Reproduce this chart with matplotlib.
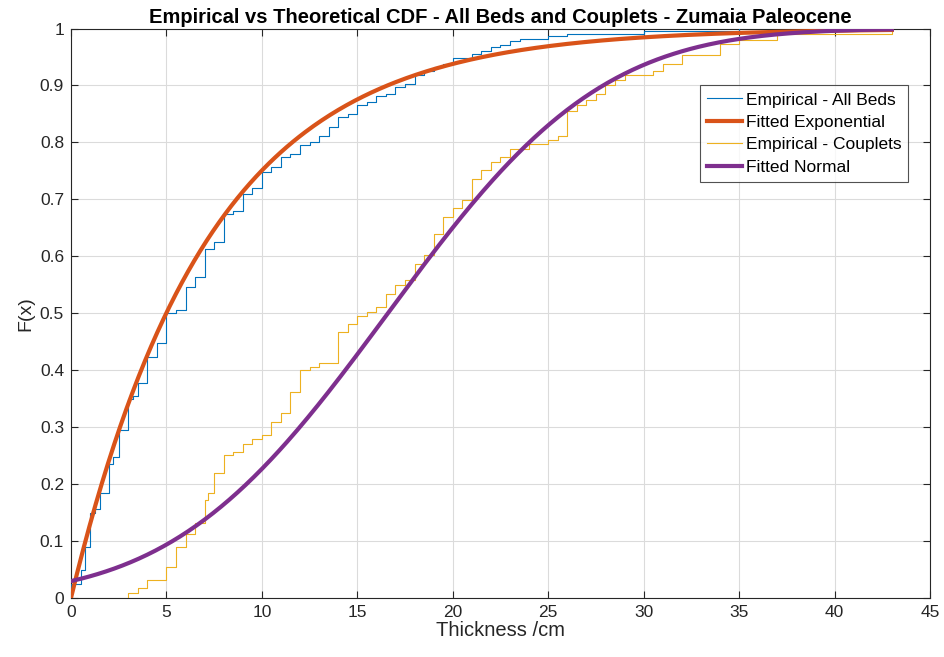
import math
import numpy as np
import matplotlib
matplotlib.use("Agg")
import matplotlib.pyplot as plt

# ---- data ----
# Empirical CDF - All Beds: step positions (cm) and F after each step
beds_x = [0.0, 0.5, 0.75, 1.0, 1.25, 1.5, 2.0, 2.2, 2.5, 3.0, 3.25, 3.5, 4.0, 4.5,
          5.0, 5.5, 6.0, 6.5, 7.0, 7.5, 8.0, 8.5, 9.0, 9.5, 10.0, 10.5, 11.0, 11.5,
          12.0, 12.5, 13.0, 13.5, 14.0, 14.5, 15.0, 15.5, 16.0, 16.5, 17.0, 17.5,
          18.0, 18.5, 19.0, 19.5, 20.0, 21.0, 21.5, 22.0, 22.5, 23.0, 23.5, 25.0,
          26.0, 30.0, 35.0]
beds_F = [0.025, 0.05, 0.09, 0.15, 0.157, 0.184, 0.235, 0.248, 0.295, 0.35, 0.355,
          0.378, 0.423, 0.448, 0.501, 0.505, 0.546, 0.564, 0.612, 0.625, 0.675,
          0.68, 0.71, 0.72, 0.748, 0.757, 0.775, 0.78, 0.795, 0.80, 0.812, 0.827,
          0.844, 0.85, 0.865, 0.871, 0.882, 0.885, 0.897, 0.903, 0.918, 0.926,
          0.932, 0.938, 0.948, 0.955, 0.961, 0.967, 0.971, 0.978, 0.982, 0.986,
          0.991, 0.995, 1.0]

# Empirical CDF - Couplets
coup_x = [3.0, 3.5, 4.0, 5.0, 5.5, 6.0, 6.5, 7.0, 7.2, 7.5, 8.0, 8.5, 9.0, 9.5,
          10.0, 10.5, 11.0, 11.5, 12.0, 12.5, 13.0, 14.0, 14.5, 15.0, 15.5, 16.0,
          16.5, 17.0, 17.5, 18.0, 18.5, 19.0, 19.5, 20.0, 20.5, 21.0, 21.5, 22.0,
          22.5, 23.0, 24.0, 25.0, 25.5, 26.0, 26.5, 27.0, 27.5, 28.0, 28.5, 29.0,
          30.5, 31.0, 32.0, 34.0, 35.0, 37.0, 43.0]
coup_F = [0.008, 0.017, 0.032, 0.055, 0.09, 0.113, 0.131, 0.172, 0.184, 0.219,
          0.251, 0.257, 0.271, 0.280, 0.286, 0.309, 0.325, 0.362, 0.40, 0.406,
          0.413, 0.467, 0.482, 0.496, 0.502, 0.511, 0.533, 0.549, 0.558, 0.587,
          0.602, 0.640, 0.669, 0.684, 0.698, 0.736, 0.751, 0.765, 0.774, 0.789,
          0.798, 0.805, 0.812, 0.856, 0.865, 0.874, 0.885, 0.90, 0.909, 0.918,
          0.926, 0.938, 0.953, 0.973, 0.979, 0.99, 1.0]

# Fitted distribution parameters
exp_mu = 7.2
norm_mu = 16.6
norm_sigma = 8.8
fit_xmax = 43.0

# ---- styles ----
C_BLUE = (0.0, 0.447, 0.741)
C_ORANGE = (0.851, 0.325, 0.098)
C_YELLOW = (0.929, 0.694, 0.125)
C_PURPLE = (0.494, 0.184, 0.556)
C_AX = (0.15, 0.15, 0.15)

plt.rcParams['font.family'] = ['Liberation Sans', 'DejaVu Sans']

fig = plt.figure(figsize=(9.45, 6.57), dpi=100)
ax = fig.add_axes([0.0751, 0.0898, 0.9090, 0.8668])

xs = np.linspace(0, fit_xmax, 400)
F_exp = 1 - np.exp(-xs / exp_mu)
F_norm = np.array([0.5 * (1 + math.erf((v - norm_mu) / (norm_sigma * math.sqrt(2)))) for v in xs])

bx = [beds_x[0]] + beds_x
bF = [0.0] + beds_F
cx = [coup_x[0]] + coup_x
cF = [0.0] + coup_F

ax.step(bx, bF, where='post', color=C_BLUE, lw=0.8, label='Empirical - All Beds', zorder=3)
ax.plot(xs, F_exp, color=C_ORANGE, lw=3.0, label='Fitted Exponential', zorder=4)
ax.step(cx, cF, where='post', color=C_YELLOW, lw=0.8, label='Empirical - Couplets', zorder=3)
ax.plot(xs, F_norm, color=C_PURPLE, lw=3.0, label='Fitted Normal', zorder=4)

ax.set_xlim(0, 45)
ax.set_ylim(0, 1)
ax.set_xticks(np.arange(0, 46, 5))
ax.set_yticks(np.arange(0, 1.01, 0.1))
ax.set_yticklabels(['0'] + ['%.1f' % v for v in np.arange(0.1, 0.95, 0.1)] + ['1'])
ax.grid(True, color=(0.86, 0.86, 0.86), lw=0.8)
ax.set_axisbelow(True)
ax.tick_params(direction='in', length=5, width=0.8, colors=C_AX,
               labelsize=12.5, top=True, right=True, pad=5)
for s in ax.spines.values():
    s.set_color(C_AX)
    s.set_linewidth(0.8)

ax.set_title('Empirical vs Theoretical CDF - All Beds and Couplets - Zumaia Paleocene',
             fontsize=14.5, fontweight='bold', pad=4)
ax.set_xlabel('Thickness /cm', fontsize=14.5, color=C_AX, labelpad=1)
ax.set_ylabel('F(x)', fontsize=14, color=C_AX, labelpad=4)

leg = ax.legend(loc='upper right', bbox_to_anchor=(0.975, 0.9), fontsize=12.5,
                frameon=True, fancybox=False, edgecolor=C_AX,
                handlelength=2.0, handletextpad=0.25, borderpad=0.4, labelspacing=0.42,
                borderaxespad=0)
leg.get_frame().set_linewidth(0.8)

fig.savefig('out.png', dpi=100)
